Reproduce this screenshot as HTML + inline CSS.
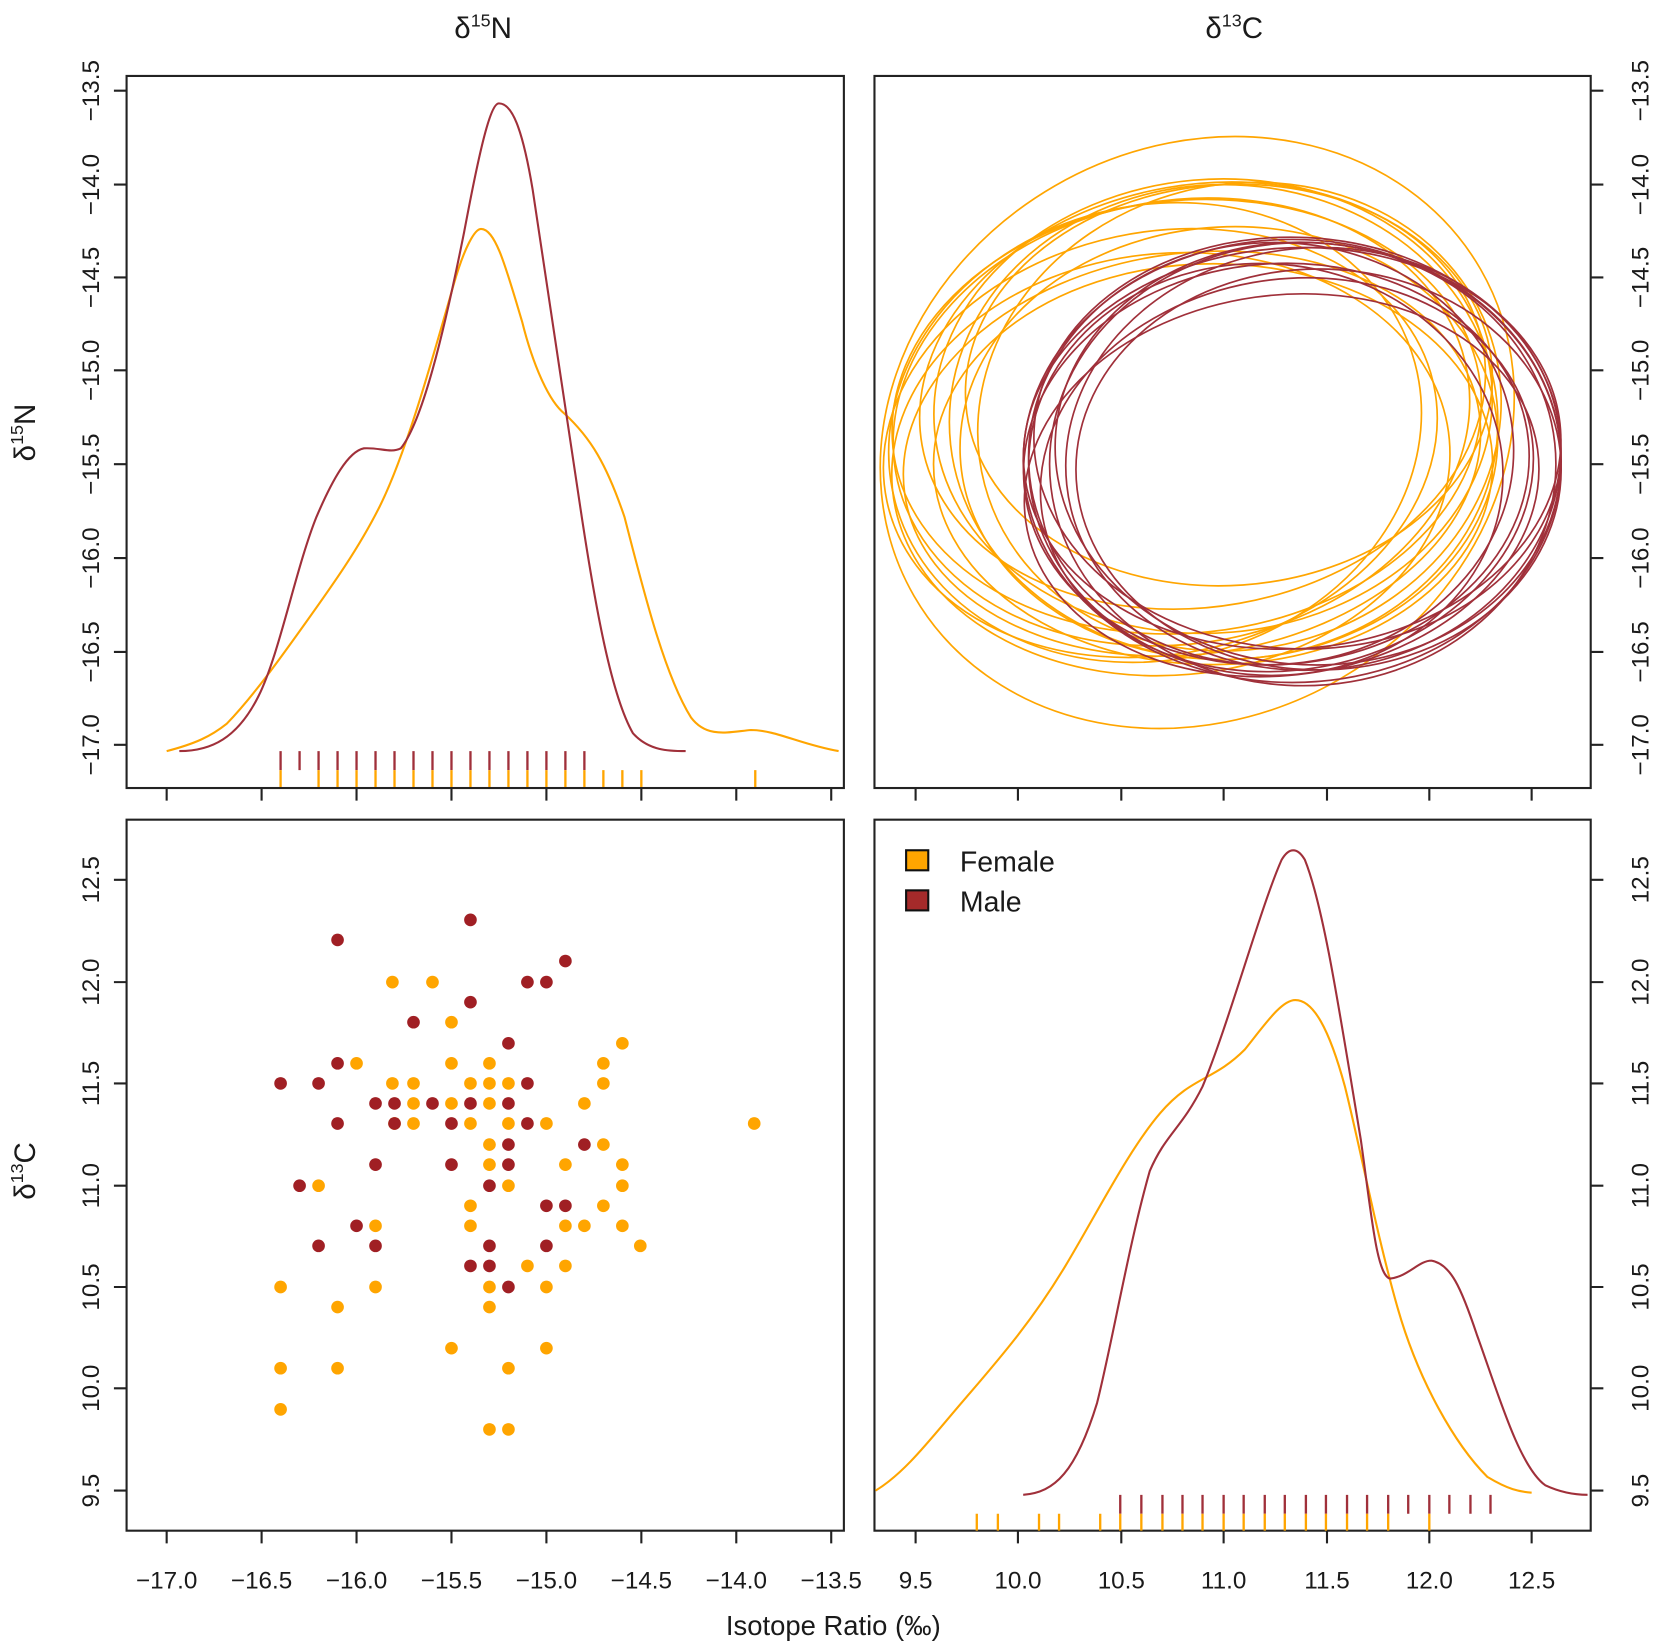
<!DOCTYPE html>
<html><head><style>html,body{margin:0;padding:0;background:#fff}svg{display:block}</style></head><body>
<svg width="1654" height="1652" viewBox="0 0 1568 1566" preserveAspectRatio="none" xmlns="http://www.w3.org/2000/svg" font-family="Liberation Sans, sans-serif" fill="none">
<g stroke="#222" stroke-width="2">
<rect x="120" y="72" width="680" height="675"/>
<rect x="829" y="72" width="679" height="675"/>
<rect x="120" y="777" width="680" height="674"/>
<rect x="829" y="777" width="679" height="674"/>
<path d="M120 86h-12M120 175h-12M120 263h-12M120 351h-12M120 440h-12M120 529h-12M120 618h-12M120 706h-12"/>
<path d="M1508 86h12M1508 175h12M1508 263h12M1508 351h12M1508 440h12M1508 529h12M1508 618h12M1508 706h12"/>
<path d="M120 834h-12M120 931h-12M120 1027h-12M120 1124h-12M120 1220h-12M120 1316h-12M120 1413h-12"/>
<path d="M1508 834h12M1508 931h12M1508 1027h12M1508 1124h12M1508 1220h12M1508 1316h12M1508 1413h12"/>
<path d="M158 1451v12M248 1451v12M338 1451v12M428 1451v12M518 1451v12M608 1451v12M698 1451v12M788 1451v12"/>
<path d="M868 1451v12M965 1451v12M1063 1451v12M1160 1451v12M1258 1451v12M1355 1451v12M1452 1451v12"/>
<path d="M158 747v12M248 747v12M338 747v12M428 747v12M518 747v12M608 747v12M698 747v12M788 747v12"/>
<path d="M868 747v12M965 747v12M1063 747v12M1160 747v12M1258 747v12M1355 747v12M1452 747v12"/>
</g>
<g fill="#1a1a1a" font-size="23">
<g text-anchor="middle">
<text x="458" y="36" font-size="28">δ<tspan font-size="17" dy="-11">15</tspan><tspan dy="11">N</tspan></text>
<text x="1170" y="36" font-size="28">δ<tspan font-size="17" dy="-11">13</tspan><tspan dy="11">C</tspan></text>
<text x="790" y="1550" font-size="26">Isotope Ratio (‰)</text>
<text x="158" y="1506">−17.0</text><text x="248" y="1506">−16.5</text><text x="338" y="1506">−16.0</text><text x="428" y="1506">−15.5</text><text x="518" y="1506">−15.0</text><text x="608" y="1506">−14.5</text><text x="698" y="1506">−14.0</text><text x="788" y="1506">−13.5</text>
<text x="868" y="1506">9.5</text><text x="965" y="1506">10.0</text><text x="1063" y="1506">10.5</text><text x="1160" y="1506">11.0</text><text x="1258" y="1506">11.5</text><text x="1355" y="1506">12.0</text><text x="1452" y="1506">12.5</text>
<g transform="translate(94,0)">
<text transform="translate(0,86) rotate(-90)">−13.5</text><text transform="translate(0,175) rotate(-90)">−14.0</text><text transform="translate(0,263) rotate(-90)">−14.5</text><text transform="translate(0,351) rotate(-90)">−15.0</text><text transform="translate(0,440) rotate(-90)">−15.5</text><text transform="translate(0,529) rotate(-90)">−16.0</text><text transform="translate(0,618) rotate(-90)">−16.5</text><text transform="translate(0,706) rotate(-90)">−17.0</text>
<text transform="translate(0,834) rotate(-90)">12.5</text><text transform="translate(0,931) rotate(-90)">12.0</text><text transform="translate(0,1027) rotate(-90)">11.5</text><text transform="translate(0,1124) rotate(-90)">11.0</text><text transform="translate(0,1220) rotate(-90)">10.5</text><text transform="translate(0,1316) rotate(-90)">10.0</text><text transform="translate(0,1413) rotate(-90)">9.5</text>
</g>
<g transform="translate(1563,0)">
<text transform="translate(0,86) rotate(-90)">−13.5</text><text transform="translate(0,175) rotate(-90)">−14.0</text><text transform="translate(0,263) rotate(-90)">−14.5</text><text transform="translate(0,351) rotate(-90)">−15.0</text><text transform="translate(0,440) rotate(-90)">−15.5</text><text transform="translate(0,529) rotate(-90)">−16.0</text><text transform="translate(0,618) rotate(-90)">−16.5</text><text transform="translate(0,706) rotate(-90)">−17.0</text>
<text transform="translate(0,834) rotate(-90)">12.5</text><text transform="translate(0,931) rotate(-90)">12.0</text><text transform="translate(0,1027) rotate(-90)">11.5</text><text transform="translate(0,1124) rotate(-90)">11.0</text><text transform="translate(0,1220) rotate(-90)">10.5</text><text transform="translate(0,1316) rotate(-90)">10.0</text><text transform="translate(0,1413) rotate(-90)">9.5</text>
</g>
<text transform="translate(33,410) rotate(-90)" font-size="28">δ<tspan font-size="17" dy="-11">15</tspan><tspan dy="11">N</tspan></text>
<text transform="translate(33,1110) rotate(-90)" font-size="28">δ<tspan font-size="17" dy="-11">13</tspan><tspan dy="11">C</tspan></text>
</g>
<text x="910" y="826" font-size="27">Female</text>
<text x="910" y="864" font-size="27">Male</text>
</g>
<rect x="859" y="806" width="21" height="19" fill="#FFA500" stroke="#111" stroke-width="2"/>
<rect x="859" y="844" width="21" height="19" fill="#A52A2A" stroke="#111" stroke-width="2"/>

<path stroke="#FFA500" stroke-width="2" d="M158 712 C185 705 200 698 215 686 C240 660 265 625 290 590 C315 555 340 520 360 480 C385 430 410 340 430 270 C440 235 450 217 456 217 C470 217 480 255 495 305 C505 345 520 380 535 392 C560 415 575 440 592 490 C610 560 630 640 655 680 C670 700 690 694 712 692 C735 692 760 706 795 712"/>
<path stroke="#A0303A" stroke-width="2" d="M170 712 C200 712 225 700 245 660 C265 620 280 540 300 490 C315 455 330 428 345 425 C360 424 370 430 380 425 C400 400 420 320 440 220 C455 140 465 98 473 98 C485 98 495 120 505 180 C520 280 535 380 550 480 C565 580 580 660 600 695 C615 712 635 712 650 712"/>
<path stroke="#FFA500" stroke-width="2" d="M830 1413 C860 1395 885 1360 920 1320 C950 1285 980 1250 1010 1200 C1040 1150 1070 1090 1100 1055 C1130 1020 1150 1025 1180 995 C1200 970 1215 948 1228 948 C1245 948 1260 975 1275 1030 C1290 1090 1305 1170 1325 1240 C1345 1310 1380 1370 1410 1400 C1430 1412 1440 1414 1452 1415"/>
<path stroke="#A0303A" stroke-width="2" d="M970 1417 C1000 1415 1020 1395 1040 1330 C1055 1270 1070 1180 1090 1110 C1105 1075 1120 1070 1140 1030 C1165 970 1195 860 1215 815 C1222 803 1230 803 1237 815 C1255 860 1270 960 1290 1080 C1300 1150 1305 1210 1318 1212 C1335 1210 1345 1195 1357 1195 C1375 1198 1385 1220 1400 1265 C1420 1320 1440 1390 1465 1408 C1480 1415 1495 1417 1505 1417"/>

<g stroke="#A0303A" stroke-width="2.2">
<path d="M266 712v18M284 712v18M302 712v18M320 712v18M338 712v18M356 712v18M374 712v18M392 712v18M410 712v18M428 712v18M446 712v18M464 712v18M482 712v18M500 712v18M518 712v18M536 712v18M554 712v18"/>
<path d="M1062 1417v18M1082 1417v18M1102 1417v18M1121 1417v18M1140 1417v18M1160 1417v18M1179 1417v18M1199 1417v18M1218 1417v18M1238 1417v18M1257 1417v18M1277 1417v18M1296 1417v18M1316 1417v18M1335 1417v18M1355 1417v18M1374 1417v18M1394 1417v18M1413 1417v18"/>
</g>
<g stroke="#FFA500" stroke-width="2.2">
<path d="M266 730v16M302 730v16M320 730v16M338 730v16M356 730v16M374 730v16M392 730v16M410 730v16M428 730v16M446 730v16M464 730v16M482 730v16M500 730v16M518 730v16M536 730v16M554 730v16M572 730v16M590 730v16M608 730v16M716 730v16"/>
<path d="M926 1435v16M946 1435v16M985 1435v16M1004 1435v16M1043 1435v16M1062 1435v16M1082 1435v16M1102 1435v16M1121 1435v16M1140 1435v16M1160 1435v16M1179 1435v16M1199 1435v16M1218 1435v16M1238 1435v16M1257 1435v16M1277 1435v16M1296 1435v16M1316 1435v16M1355 1435v16"/>
</g>

<g stroke="#FFA500" stroke-width="1.6">
<ellipse cx="1135" cy="410" rx="310" ry="270" transform="rotate(-30 1135 410)"/>
<ellipse cx="1120" cy="400" rx="275" ry="210" transform="rotate(-10 1120 400)"/>
<ellipse cx="1150" cy="385" rx="265" ry="215" transform="rotate(-5 1150 385)"/>
<ellipse cx="1100" cy="420" rx="265" ry="200" transform="rotate(-12 1100 420)"/>
<ellipse cx="1160" cy="400" rx="260" ry="225"/>
<ellipse cx="1130" cy="430" rx="275" ry="190" transform="rotate(-8 1130 430)"/>
<ellipse cx="1175" cy="395" rx="250" ry="220" transform="rotate(-15 1175 395)"/>
<ellipse cx="1110" cy="440" rx="265" ry="200" transform="rotate(-5 1110 440)"/>
<ellipse cx="1140" cy="375" rx="270" ry="200" transform="rotate(-10 1140 375)"/>
<ellipse cx="1165" cy="420" rx="255" ry="205" transform="rotate(-3 1165 420)"/>
<ellipse cx="1095" cy="410" rx="255" ry="215" transform="rotate(-15 1095 410)"/>
<ellipse cx="1150" cy="440" rx="265" ry="190"/>
<ellipse cx="1125" cy="395" rx="280" ry="205" transform="rotate(-6 1125 395)"/>
<ellipse cx="1165" cy="365" rx="250" ry="190" transform="rotate(-4 1165 365)"/>
</g>
<g stroke="#A0303A" stroke-width="1.6">
<ellipse cx="1225" cy="437" rx="255" ry="210"/>
<ellipse cx="1210" cy="440" rx="240" ry="190" transform="rotate(-5 1210 440)"/>
<ellipse cx="1240" cy="430" rx="240" ry="200" transform="rotate(5 1240 430)"/>
<ellipse cx="1220" cy="450" rx="235" ry="185" transform="rotate(-10 1220 450)"/>
<ellipse cx="1230" cy="420" rx="250" ry="195" transform="rotate(3 1230 420)"/>
<ellipse cx="1205" cy="430" rx="230" ry="200" transform="rotate(-3 1205 430)"/>
<ellipse cx="1250" cy="445" rx="230" ry="190"/>
<ellipse cx="1215" cy="460" rx="245" ry="180" transform="rotate(-8 1215 460)"/>
<ellipse cx="1235" cy="440" rx="240" ry="210"/>
<ellipse cx="1225" cy="425" rx="255" ry="190" transform="rotate(-4 1225 425)"/>
<ellipse cx="1200" cy="445" rx="225" ry="195" transform="rotate(5 1200 445)"/>
<ellipse cx="1245" cy="435" rx="235" ry="200" transform="rotate(-6 1245 435)"/>
</g>

<g fill="#FFA500">
<circle cx="372" cy="931" r="6"/><circle cx="410" cy="931" r="6"/><circle cx="428" cy="969" r="6"/><circle cx="338" cy="1008" r="6"/><circle cx="428" cy="1008" r="6"/><circle cx="464" cy="1008" r="6"/><circle cx="572" cy="1008" r="6"/><circle cx="590" cy="989" r="6"/><circle cx="372" cy="1027" r="6"/><circle cx="392" cy="1027" r="6"/><circle cx="446" cy="1027" r="6"/><circle cx="464" cy="1027" r="6"/><circle cx="482" cy="1027" r="6"/><circle cx="572" cy="1027" r="6"/><circle cx="392" cy="1046" r="6"/><circle cx="428" cy="1046" r="6"/><circle cx="464" cy="1046" r="6"/><circle cx="554" cy="1046" r="6"/><circle cx="374" cy="1065" r="6"/><circle cx="392" cy="1065" r="6"/><circle cx="446" cy="1065" r="6"/><circle cx="482" cy="1065" r="6"/><circle cx="518" cy="1065" r="6"/><circle cx="715" cy="1065" r="6"/><circle cx="464" cy="1085" r="6"/><circle cx="572" cy="1085" r="6"/><circle cx="464" cy="1104" r="6"/><circle cx="536" cy="1104" r="6"/><circle cx="590" cy="1104" r="6"/><circle cx="302" cy="1124" r="6"/><circle cx="482" cy="1124" r="6"/><circle cx="590" cy="1124" r="6"/><circle cx="446" cy="1143" r="6"/><circle cx="572" cy="1143" r="6"/><circle cx="446" cy="1162" r="6"/><circle cx="356" cy="1162" r="6"/><circle cx="536" cy="1162" r="6"/><circle cx="554" cy="1162" r="6"/><circle cx="590" cy="1162" r="6"/><circle cx="607" cy="1181" r="6"/><circle cx="500" cy="1200" r="6"/><circle cx="536" cy="1200" r="6"/><circle cx="464" cy="1220" r="6"/><circle cx="518" cy="1220" r="6"/><circle cx="266" cy="1220" r="6"/><circle cx="356" cy="1220" r="6"/><circle cx="464" cy="1239" r="6"/><circle cx="320" cy="1239" r="6"/><circle cx="428" cy="1278" r="6"/><circle cx="518" cy="1278" r="6"/><circle cx="266" cy="1297" r="6"/><circle cx="320" cy="1297" r="6"/><circle cx="482" cy="1297" r="6"/><circle cx="266" cy="1336" r="6"/><circle cx="464" cy="1355" r="6"/><circle cx="482" cy="1355" r="6"/>
</g>
<g fill="#A01F24">
<circle cx="320" cy="891" r="6"/><circle cx="446" cy="872" r="6"/><circle cx="536" cy="911" r="6"/><circle cx="446" cy="950" r="6"/><circle cx="500" cy="931" r="6"/><circle cx="518" cy="931" r="6"/><circle cx="392" cy="969" r="6"/><circle cx="482" cy="989" r="6"/><circle cx="320" cy="1008" r="6"/><circle cx="266" cy="1027" r="6"/><circle cx="302" cy="1027" r="6"/><circle cx="500" cy="1027" r="6"/><circle cx="356" cy="1046" r="6"/><circle cx="374" cy="1046" r="6"/><circle cx="410" cy="1046" r="6"/><circle cx="446" cy="1046" r="6"/><circle cx="482" cy="1046" r="6"/><circle cx="320" cy="1065" r="6"/><circle cx="374" cy="1065" r="6"/><circle cx="428" cy="1065" r="6"/><circle cx="500" cy="1065" r="6"/><circle cx="482" cy="1085" r="6"/><circle cx="554" cy="1085" r="6"/><circle cx="356" cy="1104" r="6"/><circle cx="428" cy="1104" r="6"/><circle cx="482" cy="1104" r="6"/><circle cx="284" cy="1124" r="6"/><circle cx="464" cy="1124" r="6"/><circle cx="518" cy="1143" r="6"/><circle cx="536" cy="1143" r="6"/><circle cx="338" cy="1162" r="6"/><circle cx="302" cy="1181" r="6"/><circle cx="356" cy="1181" r="6"/><circle cx="464" cy="1181" r="6"/><circle cx="518" cy="1181" r="6"/><circle cx="446" cy="1200" r="6"/><circle cx="464" cy="1200" r="6"/><circle cx="482" cy="1220" r="6"/>
</g>
</svg>
</body></html>
